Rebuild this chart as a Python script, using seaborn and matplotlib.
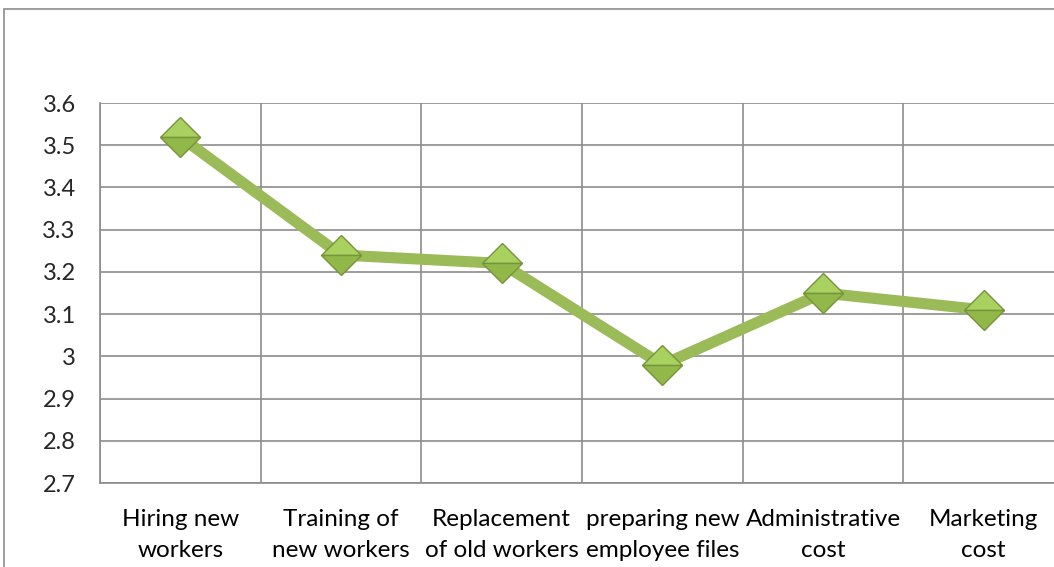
import matplotlib
matplotlib.use("Agg")
import matplotlib.pyplot as plt
import seaborn as sns
import pandas as pd
from matplotlib.patches import Rectangle

# --- data ---
categories = ["Hiring new\nworkers", "Training of\nnew workers", "Replacement\nof old workers",
              "preparing new\nemployee files", "Administrative\ncost", "Marketing\ncost"]
mean_scores = [3.52, 3.24, 3.22, 2.98, 3.15, 3.11]
y_ticks = [2.7, 2.8, 2.9, 3.0, 3.1, 3.2, 3.3, 3.4, 3.5, 3.6]
y_tick_labels = ["2.7", "2.8", "2.9", "3", "3.1", "3.2", "3.3", "3.4", "3.5", "3.6"]

df = pd.DataFrame({"item": categories, "score": mean_scores})

sns.set_style("white")
plt.rcParams["font.family"] = ["Lato", "DejaVu Sans"]

W, H = 1054, 567
fig = plt.figure(figsize=(W / 100, H / 100), dpi=100)
# plot area: left 100px, top 103px, bottom 483px, right ~1064px (past the edge)
ax = fig.add_axes([100 / W, (H - 483) / H, (1064 - 100) / W, (483 - 103) / H])

grid_col = "#8c8c8c"
line_col = "#9BBB59"

sns.lineplot(data=df, x="item", y="score", sort=False, ax=ax, color=line_col,
             linewidth=8, marker="D", markersize=20, markerfacecolor="#a8d160",
             markeredgecolor="#76943a", markeredgewidth=1.0, zorder=3)
# slightly darker lower half of the diamonds
for line in ax.lines:
    line.set_fillstyle("top")
    line.set_markerfacecoloralt("#92b84a")

ax.set_xlim(-0.5, len(categories) - 0.5)
ax.set_ylim(2.7, 3.6)
ax.set_yticks(y_ticks)
ax.set_yticklabels(y_tick_labels)
ax.set_xlabel("")
ax.set_ylabel("")

# horizontal gridlines
for yv in y_ticks:
    ax.axhline(yv, color=grid_col, linewidth=1.2, zorder=1)
# vertical gridlines at category boundaries
bounds = [i - 0.5 for i in range(len(categories) + 1)]
for xv in bounds:
    ax.axvline(xv, color=grid_col, linewidth=1.2, zorder=1)

ax.set_xticks(bounds, minor=True)
ax.tick_params(axis="x", which="major", length=0, pad=18.5, labelsize=17.5, colors="black")
ax.tick_params(axis="x", which="minor", length=6.5, width=1.2, color=grid_col, direction="out")
ax.tick_params(axis="y", length=6.5, width=1.2, color=grid_col, direction="out", pad=11,
               labelsize=17)
for lbl in ax.get_xticklabels():
    lbl.set_linespacing(1.6)

for s in ["top", "right"]:
    ax.spines[s].set_visible(False)
for s in ["left", "bottom"]:
    ax.spines[s].set_color(grid_col)
    ax.spines[s].set_linewidth(1.2)

# outer chart frame (runs past right and bottom edge)
fig.patches.append(Rectangle((4 / W, -0.1), 1.2, 1 - 9 / H + 0.1, transform=fig.transFigure,
                             fill=False, edgecolor="#8c8c8c", linewidth=1.2))

fig.savefig("out.png", dpi=100)
